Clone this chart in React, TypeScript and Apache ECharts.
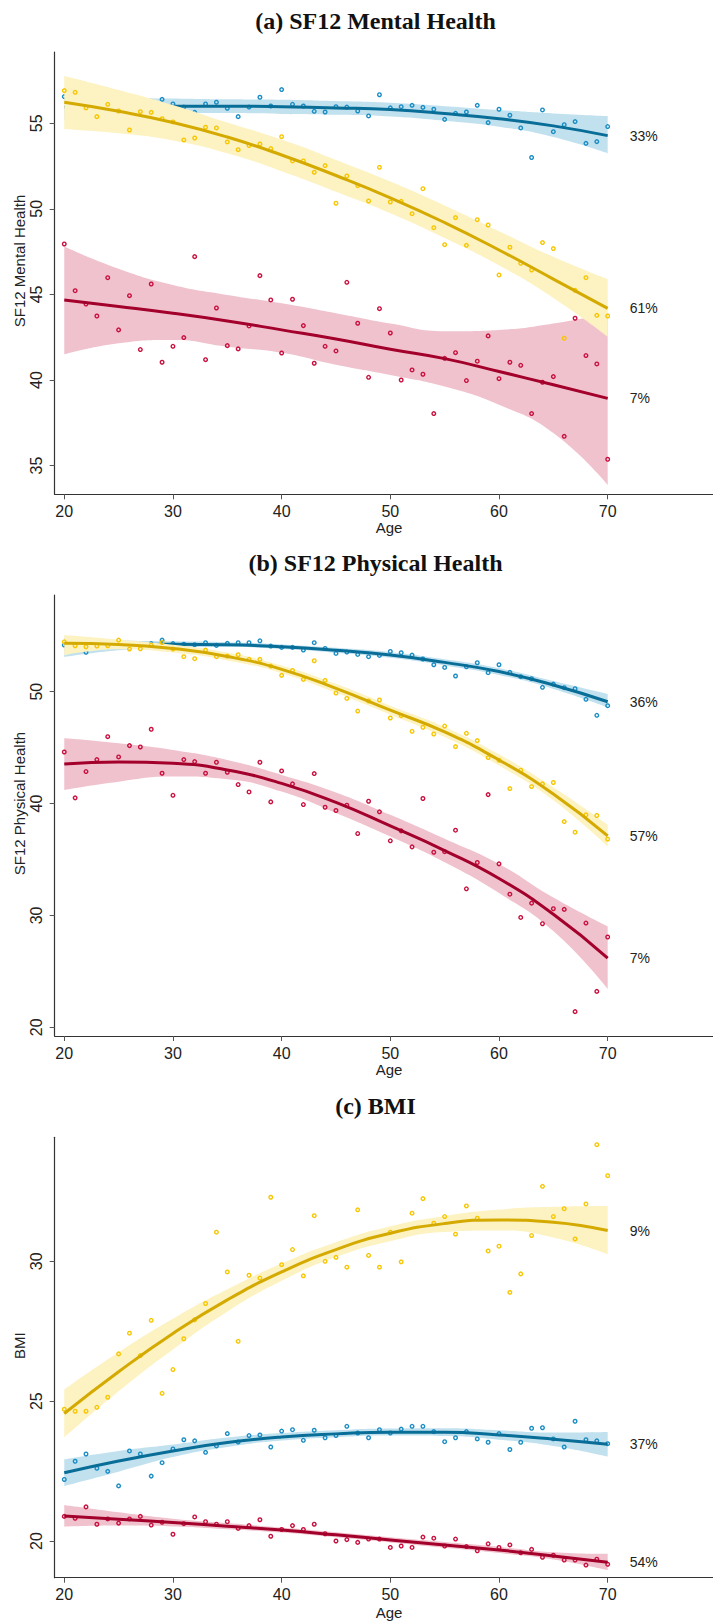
import React, { useEffect, useRef } from "react";
import * as echarts from "echarts";

// ---------- data ----------
const AGES = [20,21,22,23,24,25,26,27,28,29,30,31,32,33,34,35,36,37,38,39,40,41,42,43,44,45,46,47,48,49,50,51,52,53,54,55,56,57,58,59,60,61,62,63,64,65,66,67,68,69,70];
const FIT_AGES = [20, 25, 30, 35, 40, 45, 50, 55, 60, 65, 70];
const X_TICKS = [20, 30, 40, 50, 60, 70];

// (a) SF12 Mental Health
const MH_BLUE = [56.56,56.0,56.2,55.8,56.1,55.9,56.3,55.9,56.27,56.4,56.13,55.95,55.64,56.13,56.23,55.88,55.39,55.95,56.52,56.01,56.97,56.11,56.01,55.7,55.66,55.97,55.95,55.72,55.43,56.67,55.9,55.97,56.05,55.93,55.82,55.23,55.58,55.66,56.05,55.04,55.82,55.47,54.73,53.0,55.78,54.51,54.92,55.1,53.83,53.93,54.81];
const MH_YELLOW = [56.91,56.81,55.9,55.39,56.11,55.72,54.61,55.68,55.64,55.27,55.08,54.03,54.14,54.77,54.73,53.91,53.46,53.7,53.79,53.52,54.22,52.8,52.8,52.14,52.53,50.33,51.92,51.36,50.46,52.43,50.4,50.44,49.72,51.18,48.9,47.91,49.49,47.87,49.37,49.06,46.14,47.76,46.82,46.43,48.03,47.68,42.44,45.24,45.98,43.78,43.74];
const MH_RED = [47.95,45.22,44.44,43.74,45.98,42.93,44.93,41.78,45.61,41.04,41.97,42.48,47.21,41.19,44.21,42.01,41.82,43.16,46.1,44.68,41.58,44.72,43.18,40.98,41.97,41.7,45.71,43.32,40.16,44.17,42.75,40.0,40.59,40.34,38.04,41.27,41.6,39.97,41.1,42.58,40.08,41.04,40.86,38.04,39.87,40.2,36.71,43.61,41.43,40.94,35.37];
const MH_BLUE_FIT = [55.95,56.0,56.0,56.0,55.97,55.9,55.8,55.57,55.27,54.85,54.28];
const MH_BLUE_LO = [55.2,55.5,55.6,55.6,55.55,55.5,55.4,55.15,54.8,54.2,53.25];
const MH_BLUE_HI = [56.7,56.5,56.45,56.4,56.38,56.3,56.2,56.0,55.78,55.58,55.43];
const MH_YELLOW_FIT = [56.23,55.7,55.05,54.2,53.15,51.95,50.65,49.2,47.6,45.9,44.19];
const MH_YELLOW_LO = [54.65,54.42,54.0,53.25,52.2,51.0,49.75,48.3,46.7,44.8,42.54];
const MH_YELLOW_HI = [57.77,56.95,56.07,55.04,54.05,52.86,51.6,50.2,48.7,47.2,45.89];
const MH_RED_FIT = [44.68,44.3,43.9,43.45,42.93,42.4,41.8,41.25,40.5,39.72,38.93];
const MH_RED_LO = [41.5,42.15,42.34,41.95,41.6,40.9,40.3,39.62,38.55,36.9,33.87];
const MH_RED_HI = [47.8,46.5,45.55,44.97,44.48,43.9,43.3,42.85,42.93,43.3,43.9];

// (b) SF12 Physical Health
const PH_BLUE = [54.17,54.2,53.52,54.3,54.1,54.4,54.0,54.2,54.3,54.61,54.3,54.25,54.2,54.38,54.14,54.32,54.38,54.38,54.55,54.08,53.96,53.96,53.72,54.38,53.87,53.42,53.54,53.33,53.13,53.24,53.6,53.48,53.27,52.92,52.41,52.17,51.4,52.23,52.59,51.7,52.41,51.73,51.34,51.16,50.39,50.68,50.36,50.27,49.32,47.89,48.75];
const PH_YELLOW = [54.46,54.11,54.02,54.08,54.11,54.61,53.81,53.84,54.17,54.4,53.81,53.13,52.95,53.72,53.13,53.18,53.3,52.89,52.89,52.29,51.46,51.9,51.1,52.77,51.01,49.88,49.4,48.27,49.17,49.26,47.65,47.86,46.46,46.82,46.22,46.93,45.09,46.28,45.63,44.11,43.87,41.34,42.98,41.52,41.76,41.88,38.39,37.44,38.99,38.93,36.82];
const PH_RED = [44.61,40.51,42.86,43.93,45.98,44.17,45.18,45.06,46.64,42.71,40.74,43.93,43.75,42.71,43.69,42.8,41.7,41.04,43.69,40.15,42.92,41.76,39.91,42.68,39.67,39.38,39.85,37.32,40.21,39.26,36.67,37.56,36.13,40.45,35.65,35.7,37.62,32.38,34.73,40.8,34.61,31.9,29.82,31.1,29.26,30.6,30.54,21.4,29.32,23.21,28.07];
const PH_BLUE_FIT = [54.1,54.2,54.25,54.2,54.02,53.7,53.28,52.62,51.8,50.6,49.1];
const PH_BLUE_LO = [53.1,53.7,54.0,54.0,53.82,53.48,53.03,52.35,51.5,50.25,48.6];
const PH_BLUE_HI = [54.9,54.6,54.5,54.42,54.22,53.92,53.53,52.9,52.1,50.95,49.79];
const PH_YELLOW_FIT = [54.32,54.23,53.87,53.15,52.0,50.3,48.35,46.4,43.9,40.85,37.11];
const PH_YELLOW_LO = [53.27,53.8,53.5,52.8,51.65,49.9,47.95,45.95,43.4,40.3,36.16];
const PH_YELLOW_HI = [55.06,54.65,54.2,53.5,52.35,50.7,48.75,46.85,44.4,41.45,38.1];
const PH_RED_FIT = [43.54,43.72,43.6,43.0,41.8,40.1,38.0,35.8,33.3,30.1,26.19];
const PH_RED_LO = [41.22,41.96,42.41,42.17,41.07,39.15,37.05,34.75,32.0,28.6,23.42];
const PH_RED_HI = [45.83,45.39,44.79,43.9,42.56,41.0,38.99,36.85,34.6,31.6,29.02];

// (c) BMI
const BMI_BLUE = [22.2,22.85,23.11,22.6,22.49,21.97,23.22,23.11,22.32,22.8,23.29,23.62,23.58,23.17,23.4,23.84,23.54,23.77,23.79,23.36,23.93,23.98,23.6,23.96,23.69,23.77,24.1,23.86,23.69,23.98,23.86,24.0,24.1,24.1,23.91,23.55,23.69,23.91,23.65,23.53,23.84,23.27,23.53,24.03,24.05,23.65,23.36,24.28,23.62,23.58,23.48];
const BMI_YELLOW = [24.71,24.64,24.64,24.78,25.14,26.69,27.43,26.63,27.89,25.28,26.13,27.23,27.91,28.49,31.04,29.62,27.14,29.5,29.4,32.29,29.88,30.42,29.48,31.63,30.0,30.14,29.79,31.84,30.21,29.79,31.04,29.98,31.72,32.24,31.36,31.6,30.97,31.98,31.54,30.37,30.54,28.89,29.55,30.92,32.68,31.6,31.88,30.8,32.05,34.17,33.06];
const BMI_RED = [20.88,20.81,21.22,20.6,20.79,20.64,20.79,20.88,20.57,20.67,20.24,20.62,20.86,20.69,20.6,20.69,20.45,20.55,20.76,20.17,20.41,20.55,20.41,20.6,20.26,20.0,20.05,19.95,20.07,20.07,19.77,19.82,19.77,20.14,20.1,19.82,20.07,19.8,19.65,19.9,19.77,19.86,19.58,19.7,19.42,19.49,19.32,19.32,19.14,19.35,19.17];
const BMI_BLUE_FIT = [22.44,22.86,23.22,23.52,23.72,23.83,23.89,23.89,23.79,23.64,23.46];
const BMI_BLUE_LO = [21.97,22.48,23.0,23.36,23.59,23.71,23.77,23.75,23.62,23.4,23.02];
const BMI_BLUE_HI = [22.92,23.22,23.45,23.7,23.86,23.96,24.02,24.03,23.96,23.88,23.9];
const BMI_YELLOW_FIT = [24.56,26.05,27.42,28.62,29.62,30.42,31.0,31.35,31.48,31.4,31.1];
const BMI_YELLOW_LO = [23.7,25.35,26.85,28.2,29.3,30.15,30.72,31.05,31.1,30.85,30.25];
const BMI_YELLOW_HI = [25.42,26.75,27.95,29.0,29.92,30.68,31.25,31.62,31.85,31.95,31.98];
const BMI_RED_FIT = [20.89,20.78,20.66,20.53,20.39,20.22,20.04,19.86,19.68,19.46,19.24];
const BMI_RED_LO = [20.51,20.55,20.52,20.42,20.3,20.13,19.95,19.76,19.57,19.34,18.96];
const BMI_RED_HI = [21.29,21.03,20.8,20.64,20.48,20.31,20.13,19.96,19.79,19.6,19.54];

const TITLES = ["(a) SF12 Mental Health", "(b) SF12 Physical Health", "(c) BMI"];
const Y_NAMES = ["SF12 Mental Health", "SF12 Physical Health", "BMI"];
const Y_TICKS = [[35, 40, 45, 50, 55], [20, 30, 40, 50], [20, 25, 30]];
const SHARES = [
  { red: "7%", blue: "33%", yellow: "61%" },
  { red: "7%", blue: "36%", yellow: "57%" },
  { red: "54%", blue: "37%", yellow: "9%" },
];

// ---------- styling ----------
const COLORS = {
  red: { point: "#c8103e", line: "#a3002c", band: "#f0c2ce" },
  blue: { point: "#1a8dc4", line: "#086d97", band: "#c2e1ef" },
  yellow: { point: "#f7c600", line: "#d4aa00", band: "#fdf2c2" },
};
const SANS = "Liberation Sans, Arial, sans-serif";
const SERIF = "Liberation Serif, Times New Roman, serif";

const PANELS = [
  {
    groups: {
      red: [MH_RED, MH_RED_FIT, MH_RED_LO, MH_RED_HI],
      blue: [MH_BLUE, MH_BLUE_FIT, MH_BLUE_LO, MH_BLUE_HI],
      yellow: [MH_YELLOW, MH_YELLOW_FIT, MH_YELLOW_LO, MH_YELLOW_HI],
    },
    top: 52, height: 442.3, ymin: 33.324, ymax: 59.166,
    titleY: 21, yNameY: 261, ageY: 527,
  },
  {
    groups: {
      red: [PH_RED, PH_RED_FIT, PH_RED_LO, PH_RED_HI],
      blue: [PH_BLUE, PH_BLUE_FIT, PH_BLUE_LO, PH_BLUE_HI],
      yellow: [PH_YELLOW, PH_YELLOW_FIT, PH_YELLOW_LO, PH_YELLOW_HI],
    },
    top: 595, height: 441, ymin: 19.223, ymax: 58.644,
    titleY: 562.5, yNameY: 803.5, ageY: 1069,
  },
  {
    groups: {
      red: [BMI_RED, BMI_RED_FIT, BMI_RED_LO, BMI_RED_HI],
      blue: [BMI_BLUE, BMI_BLUE_FIT, BMI_BLUE_LO, BMI_BLUE_HI],
      yellow: [BMI_YELLOW, BMI_YELLOW_FIT, BMI_YELLOW_LO, BMI_YELLOW_HI],
    },
    top: 1137.3, height: 440.4, ymin: 18.688, ymax: 34.433,
    titleY: 1106, yNameY: 1345.7, ageY: 1612,
  },
];

const GRID_LEFT = 54.7;
const GRID_WIDTH = 658.3;
const X_MIN = 19.12;
const X_MAX = 79.69;

function buildOption() {
  const grid: any[] = [];
  const xAxis: any[] = [];
  const yAxis: any[] = [];
  const series: any[] = [];
  const graphic: any[] = [];

  PANELS.forEach((p, pi) => {
    grid.push({ left: GRID_LEFT, top: p.top, width: GRID_WIDTH, height: p.height, containLabel: false });
    xAxis.push({
      type: "value", gridIndex: pi, min: X_MIN, max: X_MAX, z: 50,
      axisLine: { show: true, onZero: false, lineStyle: { color: "#333", width: 1.2 } },
      axisTick: { show: true, length: 5, customValues: X_TICKS, lineStyle: { color: "#555" } },
      axisLabel: { customValues: X_TICKS, fontSize: 16, color: "#222", margin: 9, fontFamily: SANS },
      splitLine: { show: false },
    });
    yAxis.push({
      type: "value", gridIndex: pi, min: p.ymin, max: p.ymax, z: 50,
      axisLine: { show: true, onZero: false, lineStyle: { color: "#333", width: 1.2 } },
      axisTick: { show: true, length: 5, customValues: Y_TICKS[pi], lineStyle: { color: "#555" } },
      axisLabel: { customValues: Y_TICKS[pi], rotate: 90, fontSize: 16, color: "#222", margin: 10, fontFamily: SANS },
      splitLine: { show: false },
    });

    (["red", "blue", "yellow"] as const).forEach((g, gi) => {
      const [pts, fit, lo, hi] = (p.groups as any)[g];
      const c = (COLORS as any)[g];
      const stack = `band_${pi}_${g}`;
      const zBase = 10 + gi * 4;
      // data ordered [value, age] so that the value dimension is the stacked one
      series.push({
        type: "line", xAxisIndex: pi, yAxisIndex: pi, stack, smooth: true, symbol: "none", silent: true,
        z: zBase, encode: { x: 1, y: 0 },
        lineStyle: { width: 0, opacity: 0 },
        data: FIT_AGES.map((a, i) => [lo[i], a]),
      });
      series.push({
        type: "line", xAxisIndex: pi, yAxisIndex: pi, stack, smooth: true, symbol: "none", silent: true,
        z: zBase, encode: { x: 1, y: 0 },
        lineStyle: { width: 0, opacity: 0 },
        areaStyle: { color: c.band, opacity: 1 },
        data: FIT_AGES.map((a, i) => [hi[i] - lo[i], a]),
      });
      series.push({
        type: "scatter", xAxisIndex: pi, yAxisIndex: pi, symbol: "circle", symbolSize: 3.6, silent: true,
        z: zBase + 1,
        itemStyle: { color: "rgba(255,255,255,0)", borderColor: c.point, borderWidth: 1.4, opacity: 1 },
        data: AGES.map((a, i) => [a, pts[i]]),
      });
      series.push({
        type: "line", xAxisIndex: pi, yAxisIndex: pi, smooth: true, symbol: "none", silent: true,
        z: zBase + 2,
        lineStyle: { width: 3, color: c.line },
        data: FIT_AGES.map((a, i) => [a, fit[i]]),
        endLabel: {
          show: true, formatter: (SHARES[pi] as any)[g], distance: 22,
          fontSize: 14, color: "#222", fontFamily: SANS,
        },
      });
    });

    graphic.push({
      type: "text", x: 375.5, y: p.titleY,
      style: { text: TITLES[pi], font: `bold 24px ${SERIF}`, fill: "#111", align: "center", verticalAlign: "middle" },
    });
    graphic.push({
      type: "text", x: 19.5, y: p.yNameY, rotation: Math.PI / 2,
      style: { text: Y_NAMES[pi], font: `15px ${SANS}`, fill: "#222", align: "center", verticalAlign: "middle" },
    });
    graphic.push({
      type: "text", x: 389, y: p.ageY,
      style: { text: "Age", font: `15px ${SANS}`, fill: "#222", align: "center", verticalAlign: "middle" },
    });
  });

  return { animation: false, backgroundColor: "#fff", grid, xAxis, yAxis, series, graphic };
}

export default function App() {
  const ref = useRef<HTMLDivElement>(null);
  useEffect(() => {
    document.body.style.margin = "0";
    if (!ref.current) return;
    const chart = echarts.init(ref.current, undefined, { renderer: "svg" });
    chart.setOption(buildOption() as any);
    return () => chart.dispose();
  }, []);
  return <div ref={ref} style={{ width: 713, height: 1621 }} />;
}
